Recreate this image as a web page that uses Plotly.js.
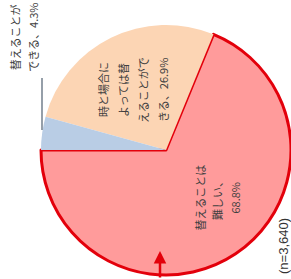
<!DOCTYPE html>
<html>
<head>
<meta charset="utf-8">
<script src="https://cdn.plot.ly/plotly-3.0.1.min.js"></script>
<style>html,body{margin:0;padding:0;background:#fff;}#chart{width:291px;height:279px;}</style>
</head>
<body>
<div id="chart"></div>
<script>
// ---- data ----
const labels = ['替えることは難しい', '時と場合によっては替えることができる', '替えることができる'];
const values = [68.8, 26.9, 4.3];
const labelText = ['替えることは<br>難しい、<br>', '時と場合に<br>よっては替<br>えることがで<br>きる、', '替えることが<br>できる、'];
const sampleNote = '(n=3,640)';
const colors = ['#FF9B9B', '#FCD5B4', '#B9CDE5'];

// ---- layout helpers (pixels -> paper) ----
const W = 291, H = 279;
const px = x => x / W;
const py = y => 1 - y / H;
const font = {family: 'Noto Sans CJK JP, sans-serif', size: 11, color: '#404040'};

const labelPos = [[217, 198], [133, 90], [24, 37]];
const lineGap = [17.5, 20, 17.5];

const annotations = [];
values.forEach((v, i) => {
  const lines = (labelText[i] + v.toFixed(1) + '%').split('<br>');
  const n = lines.length;
  lines.forEach((t, j) => {
    annotations.push({
      xref: 'paper', yref: 'paper',
      x: px(labelPos[i][0] + (j - (n - 1) / 2) * lineGap[i]), y: py(labelPos[i][1]),
      xanchor: 'center', yanchor: 'middle',
      text: t, showarrow: false, textangle: -90, align: 'center',
      font: font
    });
  });
});
annotations.push({
  xref: 'paper', yref: 'paper', x: px(283), y: py(246),
  xanchor: 'center', yanchor: 'middle',
  text: sampleNote, showarrow: false, textangle: -90,
  font: {family: 'Liberation Sans, Arial, sans-serif', size: 13, color: '#333'}
});
annotations.push({
  xref: 'paper', yref: 'paper', x: px(160), y: py(251),
  text: '', showarrow: true, ax: 0, ay: 32,
  arrowhead: 2, arrowsize: 1, arrowwidth: 2.5, arrowcolor: '#E3000B'
});

const data = [{
  type: 'pie',
  labels: labels,
  values: values,
  sort: false,
  direction: 'counterclockwise',
  rotation: 270 - values[0] / values.reduce((a, b) => a + b, 0) * 360,
  textinfo: 'none',
  hoverinfo: 'label+percent',
  marker: {colors: colors, line: {color: ['#E3000B', '#FCD5B4', '#B9CDE5'], width: [3, 0, 0]}},
  domain: {x: [px(41), px(291)], y: [py(275), py(25)]}
}];

const layout = {
  width: W, height: H,
  margin: {l: 0, r: 0, t: 0, b: 0},
  showlegend: false,
  paper_bgcolor: '#fff',
  annotations: annotations,
  shapes: [{type: 'line', xref: 'paper', yref: 'paper', x0: px(42), x1: px(42), y0: py(78), y1: py(130), line: {color: '#4F5F70', width: 1.2}}]
};

Plotly.newPlot('chart', data, layout, {displayModeBar: false, staticPlot: true});
</script>
</body>
</html>
